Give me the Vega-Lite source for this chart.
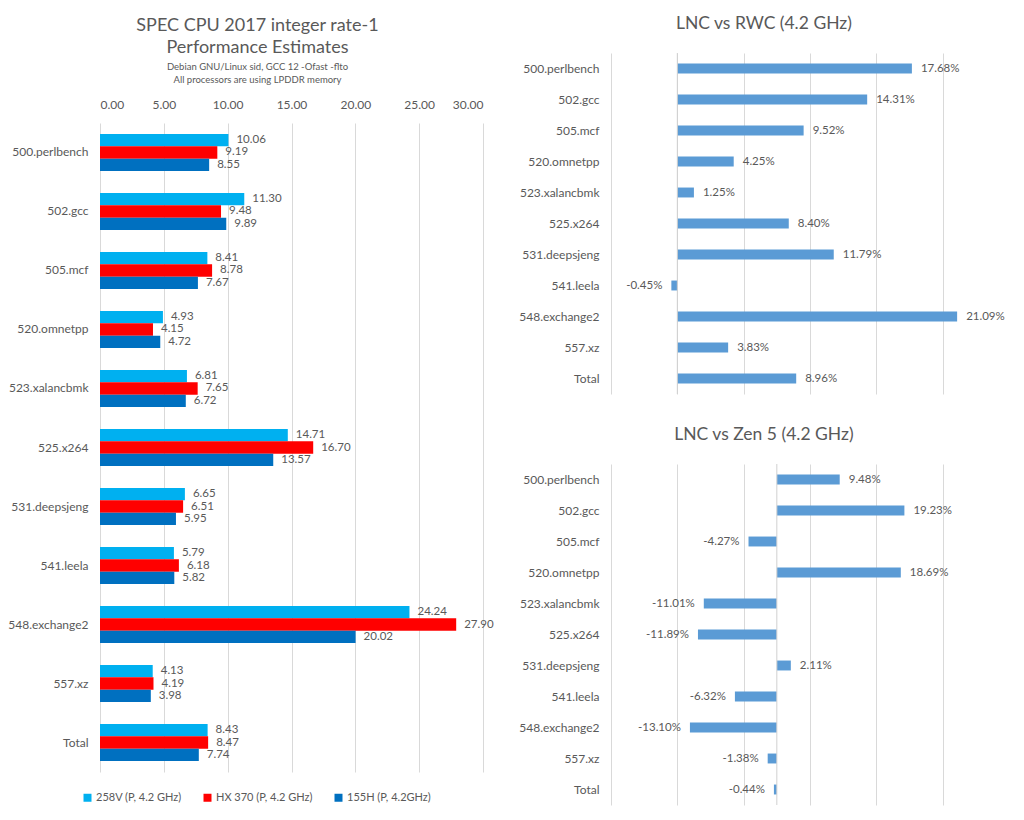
{
  "$schema": "https://vega.github.io/schema/vega-lite/v6.json",
  "background": "white",
  "padding": {"left": 7, "top": 15, "right": 0, "bottom": 0},
  "config": {
    "font": "Lato",
    "view": {"stroke": null},
    "axis": {"labelColor": "#595959", "labelFontSize": 12, "gridColor": "#d9d9d9", "domain": false, "ticks": false},
    "title": {"color": "#595959", "fontWeight": "normal"},
    "locale": {"number": {"decimal": ".", "thousands": ",", "grouping": [3], "currency": ["$", ""], "minus": "-"}}
  },
  "datasets": {
    "scores": [
      {"bench": "500.perlbench", "cpu": "258V (P, 4.2 GHz)", "score": 10.06},
      {"bench": "500.perlbench", "cpu": "HX 370 (P, 4.2 GHz)", "score": 9.19},
      {"bench": "500.perlbench", "cpu": "155H (P, 4.2GHz)", "score": 8.55},
      {"bench": "502.gcc", "cpu": "258V (P, 4.2 GHz)", "score": 11.30},
      {"bench": "502.gcc", "cpu": "HX 370 (P, 4.2 GHz)", "score": 9.48},
      {"bench": "502.gcc", "cpu": "155H (P, 4.2GHz)", "score": 9.89},
      {"bench": "505.mcf", "cpu": "258V (P, 4.2 GHz)", "score": 8.41},
      {"bench": "505.mcf", "cpu": "HX 370 (P, 4.2 GHz)", "score": 8.78},
      {"bench": "505.mcf", "cpu": "155H (P, 4.2GHz)", "score": 7.67},
      {"bench": "520.omnetpp", "cpu": "258V (P, 4.2 GHz)", "score": 4.93},
      {"bench": "520.omnetpp", "cpu": "HX 370 (P, 4.2 GHz)", "score": 4.15},
      {"bench": "520.omnetpp", "cpu": "155H (P, 4.2GHz)", "score": 4.72},
      {"bench": "523.xalancbmk", "cpu": "258V (P, 4.2 GHz)", "score": 6.81},
      {"bench": "523.xalancbmk", "cpu": "HX 370 (P, 4.2 GHz)", "score": 7.65},
      {"bench": "523.xalancbmk", "cpu": "155H (P, 4.2GHz)", "score": 6.72},
      {"bench": "525.x264", "cpu": "258V (P, 4.2 GHz)", "score": 14.71},
      {"bench": "525.x264", "cpu": "HX 370 (P, 4.2 GHz)", "score": 16.70},
      {"bench": "525.x264", "cpu": "155H (P, 4.2GHz)", "score": 13.57},
      {"bench": "531.deepsjeng", "cpu": "258V (P, 4.2 GHz)", "score": 6.65},
      {"bench": "531.deepsjeng", "cpu": "HX 370 (P, 4.2 GHz)", "score": 6.51},
      {"bench": "531.deepsjeng", "cpu": "155H (P, 4.2GHz)", "score": 5.95},
      {"bench": "541.leela", "cpu": "258V (P, 4.2 GHz)", "score": 5.79},
      {"bench": "541.leela", "cpu": "HX 370 (P, 4.2 GHz)", "score": 6.18},
      {"bench": "541.leela", "cpu": "155H (P, 4.2GHz)", "score": 5.82},
      {"bench": "548.exchange2", "cpu": "258V (P, 4.2 GHz)", "score": 24.24},
      {"bench": "548.exchange2", "cpu": "HX 370 (P, 4.2 GHz)", "score": 27.90},
      {"bench": "548.exchange2", "cpu": "155H (P, 4.2GHz)", "score": 20.02},
      {"bench": "557.xz", "cpu": "258V (P, 4.2 GHz)", "score": 4.13},
      {"bench": "557.xz", "cpu": "HX 370 (P, 4.2 GHz)", "score": 4.19},
      {"bench": "557.xz", "cpu": "155H (P, 4.2GHz)", "score": 3.98},
      {"bench": "Total", "cpu": "258V (P, 4.2 GHz)", "score": 8.43},
      {"bench": "Total", "cpu": "HX 370 (P, 4.2 GHz)", "score": 8.47},
      {"bench": "Total", "cpu": "155H (P, 4.2GHz)", "score": 7.74}
    ],
    "rwc": [
      {"bench": "500.perlbench", "pct": 0.1768},
      {"bench": "502.gcc", "pct": 0.1431},
      {"bench": "505.mcf", "pct": 0.0952},
      {"bench": "520.omnetpp", "pct": 0.0425},
      {"bench": "523.xalancbmk", "pct": 0.0125},
      {"bench": "525.x264", "pct": 0.0840},
      {"bench": "531.deepsjeng", "pct": 0.1179},
      {"bench": "541.leela", "pct": -0.0045},
      {"bench": "548.exchange2", "pct": 0.2109},
      {"bench": "557.xz", "pct": 0.0383},
      {"bench": "Total", "pct": 0.0896}
    ],
    "zen5": [
      {"bench": "500.perlbench", "pct": 0.0948},
      {"bench": "502.gcc", "pct": 0.1923},
      {"bench": "505.mcf", "pct": -0.0427},
      {"bench": "520.omnetpp", "pct": 0.1869},
      {"bench": "523.xalancbmk", "pct": -0.1101},
      {"bench": "525.x264", "pct": -0.1189},
      {"bench": "531.deepsjeng", "pct": 0.0211},
      {"bench": "541.leela", "pct": -0.0632},
      {"bench": "548.exchange2", "pct": -0.1310},
      {"bench": "557.xz", "pct": -0.0138},
      {"bench": "Total", "pct": -0.0044}
    ],
    "blank": [{"t": ""}]
  },
  "spacing": 24,
  "align": "none",
  "hconcat": [
    {
      "spacing": 13,
      "resolve": {"scale": {"x": "independent", "y": "independent"}},
      "vconcat": [
        {
          "width": 383,
          "height": 1,
          "data": {"name": "blank"},
          "title": {
            "text": ["SPEC CPU 2017 integer rate-1", "Performance Estimates"],
            "subtitle": ["Debian GNU/Linux sid, GCC 12 -Ofast -flto", "All processors are using LPDDR memory"],
            "fontSize": 18, "lineHeight": 22,
            "subtitleFontSize": 9.5, "subtitleColor": "#595959", "subtitleLineHeight": 13, "subtitlePadding": 5,
            "anchor": "middle", "frame": "group", "offset": -37, "dx": -34
          },
          "mark": {"type": "text"},
          "encoding": {"text": {"field": "t", "type": "nominal"}}
        },
        {
          "width": 383,
          "height": 649,
          "data": {"name": "scores"},
          "encoding": {
            "y": {"field": "bench", "type": "nominal", "sort": null,
                  "scale": {"paddingInner": 0.373, "paddingOuter": 0.186},
                  "axis": {"title": null, "labelPadding": 12, "grid": false}},
            "yOffset": {"field": "cpu", "type": "nominal",
                        "sort": ["258V (P, 4.2 GHz)", "HX 370 (P, 4.2 GHz)", "155H (P, 4.2GHz)"]},
            "x": {"field": "score", "type": "quantitative",
                  "scale": {"domain": [0, 30], "nice": false},
                  "axis": {"orient": "top", "values": [0, 5, 10, 15, 20, 25, 30], "format": ".2f", "title": null, "labelPadding": 12, "grid": true}}
          },
          "layer": [
            {
              "mark": {"type": "bar"},
              "encoding": {
                "color": {"field": "cpu", "type": "nominal",
                          "scale": {"domain": ["258V (P, 4.2 GHz)", "HX 370 (P, 4.2 GHz)", "155H (P, 4.2GHz)"],
                                    "range": ["#00B0F0", "#FF0000", "#0070C0"]},
                          "legend": {"title": null, "orient": "none", "legendX": -18, "legendY": 739,
                                     "direction": "horizontal", "symbolType": "square", "symbolSize": 64,
                                     "symbolStrokeWidth": 0, "labelFontSize": 11, "labelColor": "#595959",
                                     "columnPadding": 20, "labelOffset": 3}}
              }
            },
            {
              "mark": {"type": "text", "align": "left", "dx": 8, "fontSize": 11.5, "color": "#595959"},
              "encoding": {"text": {"field": "score", "type": "quantitative", "format": ".2f"}}
            }
          ]
        }
      ]
    },
    {
      "spacing": 31,
      "resolve": {"scale": {"x": "independent", "y": "independent"}},
      "vconcat": [
        {
          "width": 398,
          "height": 341,
          "title": {"text": "LNC vs RWC (4.2 GHz)", "fontSize": 17.5, "anchor": "middle", "frame": "bounds", "offset": 20},
          "layer": [
            {
              "data": {"name": "rwc"},
              "mark": {"type": "bar", "color": "#5B9BD5"},
              "encoding": {
                "y": {"field": "bench", "type": "nominal", "sort": null,
                      "scale": {"paddingInner": 0.68, "paddingOuter": 0.34},
                      "axis": {"title": null, "labelPadding": 12}},
                "x": {"field": "pct", "type": "quantitative", "scale": {"domain": [-0.05, 0.25], "nice": false},
                      "axis": {"values": [-0.05, 0, 0.05, 0.1, 0.15, 0.2, 0.25], "labels": false, "grid": true, "title": null}}
              }
            },
            {
              "data": {"values": [{"zero": 0}]},
              "mark": {"type": "rule", "color": "#d0d0d0"},
              "encoding": {"x": {"field": "zero", "type": "quantitative"}}
            },
            {
              "data": {"name": "rwc"},
              "transform": [{"filter": "datum.pct >= 0"}],
              "mark": {"type": "text", "align": "left", "dx": 9, "fontSize": 11.5, "color": "#595959"},
              "encoding": {
                "y": {"field": "bench", "type": "nominal", "sort": null},
                "x": {"field": "pct", "type": "quantitative"},
                "text": {"field": "pct", "type": "quantitative", "format": ".2%"}
              }
            },
            {
              "data": {"name": "rwc"},
              "transform": [{"filter": "datum.pct < 0"}],
              "mark": {"type": "text", "align": "right", "dx": -9, "fontSize": 11.5, "color": "#595959"},
              "encoding": {
                "y": {"field": "bench", "type": "nominal", "sort": null},
                "x": {"field": "pct", "type": "quantitative"},
                "text": {"field": "pct", "type": "quantitative", "format": ".2%"}
              }
            }
          ]
        },
        {
          "width": 398,
          "height": 341,
          "title": {"text": "LNC vs Zen 5 (4.2 GHz)", "fontSize": 17.5, "anchor": "middle", "frame": "bounds", "offset": 20},
          "layer": [
            {
              "data": {"name": "zen5"},
              "mark": {"type": "bar", "color": "#5B9BD5"},
              "encoding": {
                "y": {"field": "bench", "type": "nominal", "sort": null,
                      "scale": {"paddingInner": 0.68, "paddingOuter": 0.34},
                      "axis": {"title": null, "labelPadding": 12}},
                "x": {"field": "pct", "type": "quantitative", "scale": {"domain": [-0.25, 0.35], "nice": false},
                      "axis": {"values": [-0.25, -0.15, -0.05, 0.05, 0.15, 0.25, 0.35], "labels": false, "grid": true, "title": null}}
              }
            },
            {
              "data": {"values": [{"zero": 0}]},
              "mark": {"type": "rule", "color": "#d0d0d0"},
              "encoding": {"x": {"field": "zero", "type": "quantitative"}}
            },
            {
              "data": {"name": "zen5"},
              "transform": [{"filter": "datum.pct >= 0"}],
              "mark": {"type": "text", "align": "left", "dx": 9, "fontSize": 11.5, "color": "#595959"},
              "encoding": {
                "y": {"field": "bench", "type": "nominal", "sort": null},
                "x": {"field": "pct", "type": "quantitative"},
                "text": {"field": "pct", "type": "quantitative", "format": ".2%"}
              }
            },
            {
              "data": {"name": "zen5"},
              "transform": [{"filter": "datum.pct < 0"}],
              "mark": {"type": "text", "align": "right", "dx": -9, "fontSize": 11.5, "color": "#595959"},
              "encoding": {
                "y": {"field": "bench", "type": "nominal", "sort": null},
                "x": {"field": "pct", "type": "quantitative"},
                "text": {"field": "pct", "type": "quantitative", "format": ".2%"}
              }
            }
          ]
        }
      ]
    }
  ]
}
